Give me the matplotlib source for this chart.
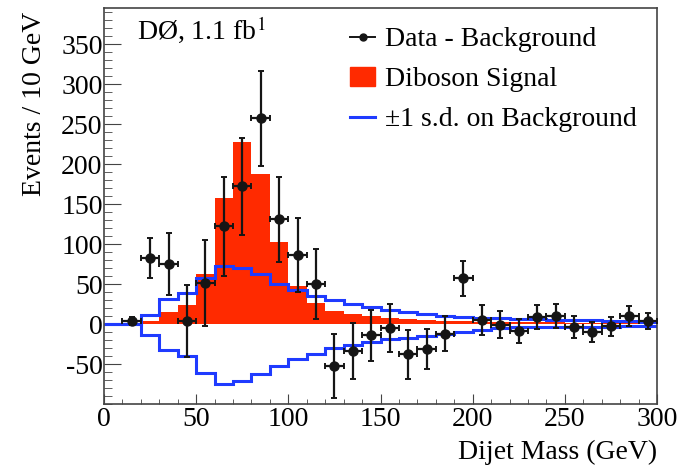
import matplotlib
matplotlib.use("Agg")
import matplotlib.pyplot as plt
import numpy as np
from matplotlib.patches import Patch
from matplotlib.lines import Line2D
from matplotlib.ticker import MultipleLocator

plt.rcParams["font.family"] = ["Liberation Serif", "DejaVu Serif"]
plt.rcParams["mathtext.fontset"] = "stix"
plt.rcParams["axes.unicode_minus"] = False

# 10 GeV bins, 0-300 GeV
edges = np.arange(0, 310, 10)

signal = [0, 0, 4, 15, 24, 62, 158, 228, 188, 103, 48, 26, 16, 12.5, 10,
          8, 6, 5, 4, 3.5, 3, 2.5, 2.5, 2, 2, 1.5, 1.5, 1, 1, 1]
bkg_up = [0, 0, 11, 31, 39, 58, 73, 70, 62, 50, 42.5, 35, 29.5, 25, 21,
          18, 15, 12, 9.5, 9, 8, 7, 6.5, 6, 5.5, 5, 4.5, 4, 3.5, 3]
bkg_down = [0, 0, -14, -32, -40, -61, -75, -71, -63, -52, -44, -37, -30, -26, -22,
            -19, -17, -15, -12.5, -10, -7, -5, -4, -3.5, -3.5, -3.5, -3.5, -3.5, -3, -3]

mass = [15, 25, 35, 45, 55, 65, 75, 85, 95, 105, 115, 125, 135, 145, 155,
        165, 175, 185, 195, 205, 215, 225, 235, 245, 255, 265, 275, 285, 295]
data_sub = [3.5, 82, 75, 3.5, 51, 122, 172, 257, 131, 86, 50, -52, -34, -14, -5,
            -38, -31, -12, 57, 5, -1, -9, 9, 10, -4, -10, -3, 10, 4]
data_err = [5, 25, 39, 45, 54, 62, 61, 59, 53, 46, 44, 40, 35, 32, 30,
            31, 25, 22, 22, 19, 17, 15, 15, 15, 14, 12, 12, 12, 10]

RED = "#ff2a00"
BLUE = "#1f3bff"
INK = "#151515"
FS = 20

fig = plt.figure(figsize=(6.83, 4.66), dpi=100)
ax = fig.add_axes([104 / 683, 1 - 404 / 466, 553 / 683, 396 / 466])

ax.stairs(signal, edges, fill=True, color=RED, zorder=1)
ax.stairs(bkg_up, edges, baseline=None, color=BLUE, linewidth=2.2, zorder=2)
ax.stairs(bkg_down, edges, baseline=None, color=BLUE, linewidth=2.2, zorder=2)
ax.errorbar(mass, data_sub, yerr=data_err, xerr=5, fmt="o", color=INK,
            markersize=6.5, elinewidth=1.6, capsize=2.5, capthick=1.4, zorder=3)

ax.set_xlim(0, 300)
ax.set_ylim(-100, 395)

for s in ax.spines.values():
    s.set_color("#444444")
    s.set_linewidth(1.2)
ax.xaxis.set_major_locator(MultipleLocator(50))
ax.xaxis.set_minor_locator(MultipleLocator(10))
ax.yaxis.set_major_locator(MultipleLocator(50))
ax.yaxis.set_minor_locator(MultipleLocator(10))
ax.tick_params(axis="both", which="both", direction="in", color="#444444",
               labelsize=FS, top=False, right=False)
ax.tick_params(axis="x", which="major", length=7, pad=2)
ax.tick_params(axis="x", which="minor", length=3.5)
ax.tick_params(axis="y", which="major", length=12, pad=1)
ax.tick_params(axis="y", which="minor", length=6)
ax.set_yticks([-50, 0, 50, 100, 150, 200, 250, 300, 350])

fig.text(35 / 683, 1 - 12 / 466, "Events / 10 GeV", rotation=90,
         ha="center", va="top", fontsize=FS)
fig.text(657 / 683, 1 - 452 / 466, "Dijet Mass (GeV)", ha="right",
         va="center", fontsize=FS)
ax.text(0.06, 0.985, "DØ, 1.1 fb$^{1}$", transform=ax.transAxes,
        ha="left", va="top", fontsize=FS)

handles = [
    Line2D([0], [0], color=INK, marker="o", markersize=5, linewidth=1.4),
    Patch(facecolor=RED, edgecolor=RED),
    Line2D([0], [0], color=BLUE, linewidth=2.2),
]
labels = ["Data - Background", "Diboson Signal", "±1 s.d. on Background"]
ax.legend(handles, labels, loc="upper left", bbox_to_anchor=(350 / 683, 1 - 27 / 466),
          bbox_transform=fig.transFigure, frameon=False, fontsize=FS,
          handlelength=0.9, handletextpad=0.35, labelspacing=0.52,
          borderpad=0, borderaxespad=0)

fig.savefig("out.png", dpi=100)
